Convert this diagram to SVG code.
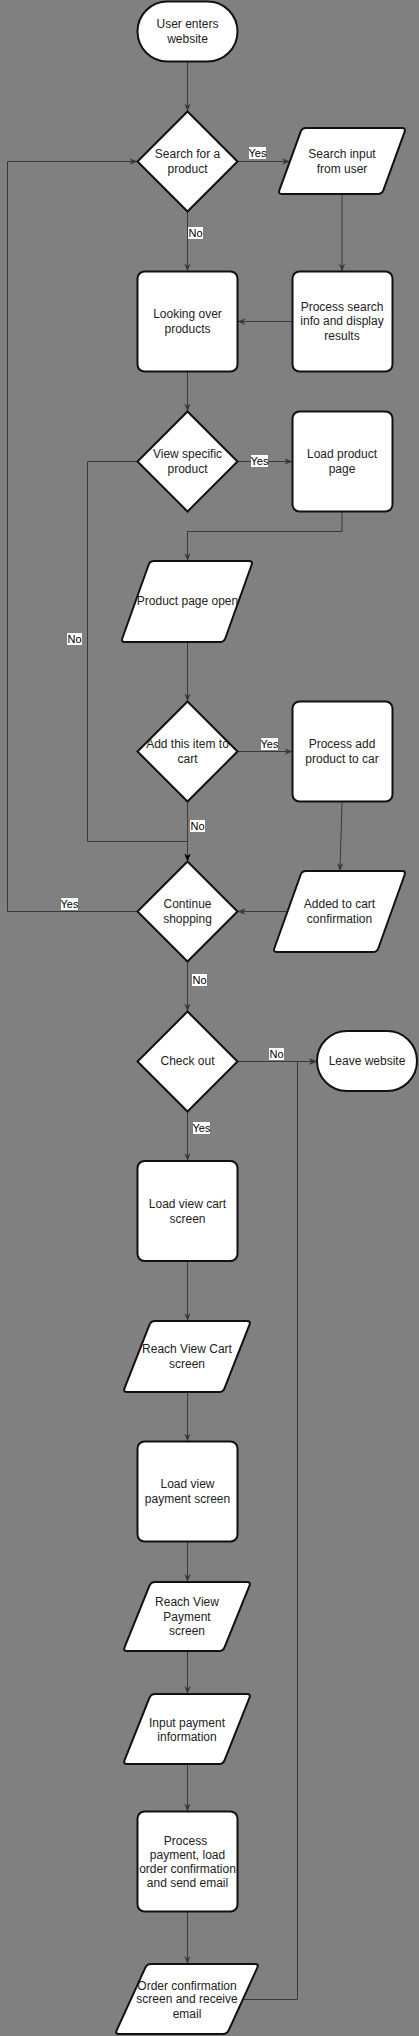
<svg xmlns="http://www.w3.org/2000/svg" width="419" height="2036" viewBox="0 0 419 2036">
<style>
.n{fill:#fff;stroke:#111;stroke-width:2}
.t{font-family:"Liberation Sans",Arial,sans-serif;font-size:12px;fill:#222;text-anchor:middle}
.e{fill:none;stroke:#36393d;stroke-width:1}
.lb{fill:#fff}
.lt{font-family:"Liberation Sans",Arial,sans-serif;font-size:11px;fill:#000;text-anchor:middle}
</style>
<defs>
<marker id="a" viewBox="0 0 10 10" markerWidth="8" markerHeight="8" refX="10" refY="5" orient="auto" markerUnits="userSpaceOnUse">
<path d="M0,1 L10,5 L0,9 L3,5 z" fill="#36393d"/>
</marker>
<marker id="ab" viewBox="0 0 10 10" markerWidth="8" markerHeight="8" refX="10" refY="5" orient="auto" markerUnits="userSpaceOnUse">
<path d="M0,1 L10,5 L0,9 L3,5 z" fill="#000"/>
</marker>
</defs>
<rect width="419" height="2036" fill="#808080"/>
<g id="connectors">
<path class="e" d="M187.5,61.5 V111.5" marker-end="url(#a)"/>
<path class="e" d="M237.5,161.5 H290" marker-end="url(#a)"/>
<path class="e" d="M342,194 V271.5" marker-end="url(#a)"/>
<path class="e" d="M292.5,321.5 H237.5" marker-end="url(#a)"/>
<path class="e" d="M187.5,211.5 V271.5" marker-end="url(#a)"/>
<path class="e" d="M187.5,371.5 V411.5" marker-end="url(#a)"/>
<path class="e" d="M237.5,461.5 H292.5" marker-end="url(#a)"/>
<path class="e" d="M342,511.5 V531.5 H187.5 V561" marker-end="url(#a)"/>
<path class="e" d="M187.5,642 V701.5" marker-end="url(#a)"/>
<path class="e" d="M237.5,751.5 H292.5" marker-end="url(#a)"/>
<path class="e" d="M187.5,801.5 V861.5" marker-end="url(#a)"/>
<path class="e" d="M137.5,461.5 H87.5 V841.5 H187.5 V861.5" stroke="#000" marker-end="url(#ab)"/>
<path class="e" d="M342,801.5 L340,871" marker-end="url(#a)"/>
<path class="e" d="M287.5,911.5 H237.5" marker-end="url(#a)"/>
<path class="e" d="M137.5,911.5 H7.5 V161.5 H137.5" marker-end="url(#a)"/>
<path class="e" d="M187.5,961.5 V1011.5" marker-end="url(#a)"/>
<path class="e" d="M237.5,1061.5 H317" marker-end="url(#a)"/>
<path class="e" d="M187.5,1111.5 V1161" marker-end="url(#a)"/>
<path class="e" d="M187.5,1261 V1321" marker-end="url(#a)"/>
<path class="e" d="M187.5,1392 V1441.5" marker-end="url(#a)"/>
<path class="e" d="M187.5,1541.5 V1582" marker-end="url(#a)"/>
<path class="e" d="M187.5,1651 V1694" marker-end="url(#a)"/>
<path class="e" d="M187.5,1764 V1811.5" marker-end="url(#a)"/>
<path class="e" d="M187.5,1911.5 V1964" marker-end="url(#a)"/>
<path class="e" d="M243,1999.5 H297.5 V1061.5 H317" marker-end="url(#a)"/>
<rect class="lb" x="249" y="147" width="17" height="12"/><text class="lt" x="257.5" y="157">Yes</text>
<rect class="lb" x="188" y="227" width="15" height="12"/><text class="lt" x="195.5" y="237">No</text>
<rect class="lb" x="251" y="455" width="17" height="12"/><text class="lt" x="259.5" y="465">Yes</text>
<rect class="lb" x="67" y="633" width="15" height="12"/><text class="lt" x="74.5" y="643">No</text>
<rect class="lb" x="261" y="738" width="17" height="12"/><text class="lt" x="269.5" y="748">Yes</text>
<rect class="lb" x="190" y="820" width="15" height="12"/><text class="lt" x="197.5" y="830">No</text>
<rect class="lb" x="61" y="898" width="17" height="12"/><text class="lt" x="69.5" y="908">Yes</text>
<rect class="lb" x="192" y="974" width="15" height="12"/><text class="lt" x="199.5" y="984">No</text>
<rect class="lb" x="269" y="1048" width="15" height="12"/><text class="lt" x="276.5" y="1058">No</text>
<rect class="lb" x="193" y="1122" width="17" height="12"/><text class="lt" x="201.5" y="1132">Yes</text>
</g>
<g id="start"><rect class="n" x="137.5" y="1.5" width="100" height="60" rx="30"/><text class="t" x="187.5" y="28">User enters</text><text class="t" x="187.5" y="43">website</text></g>
<g id="search"><path class="n" d="M187.5,111.5 L237.5,161.5 L187.5,211.5 L137.5,161.5 Z"/><text class="t" x="187.5" y="158">Search for a</text><text class="t" x="187.5" y="173">product</text></g>
<g id="searchInput"><path class="n" d="M306,128 L402,128 Q406,128 404.6,131.8 L383.4,190.2 Q382,194 378,194 L282,194 Q278,194 279.4,190.2 L300.6,131.8 Q302,128 306,128 Z"/><text class="t" x="342" y="158">Search input</text><text class="t" x="342" y="173">from user</text></g>
<g id="processSearch"><rect class="n" x="292.5" y="271.5" width="100" height="100" rx="7"/><text class="t" x="342" y="310.5">Process search</text><text class="t" x="342" y="325">info and display</text><text class="t" x="342" y="339.5">results</text></g>
<g id="looking"><rect class="n" x="137.5" y="271.5" width="100" height="100" rx="7"/><text class="t" x="187.5" y="318">Looking over</text><text class="t" x="187.5" y="333">products</text></g>
<g id="viewSpecific"><path class="n" d="M187.5,411.5 L237.5,461.5 L187.5,511.5 L137.5,461.5 Z"/><text class="t" x="187.5" y="457.5">View specific</text><text class="t" x="187.5" y="472.5">product</text></g>
<g id="loadProduct"><rect class="n" x="292.5" y="411.5" width="100" height="100" rx="7"/><text class="t" x="342" y="457.5">Load product</text><text class="t" x="342" y="472.5">page</text></g>
<g id="productOpen"><path class="n" d="M154,561 L249,561 Q253,561 251.65,564.77 L225.35,638.23 Q224,642 220,642 L125,642 Q121,642 122.35,638.23 L148.65,564.77 Q150,561 154,561 Z"/><text class="t" x="187.5" y="605">Product page open</text></g>
<g id="addItem"><path class="n" d="M187.5,701.5 L237.5,751.5 L187.5,801.5 L137.5,751.5 Z"/><text class="t" x="187.5" y="747.5">Add this item to</text><text class="t" x="187.5" y="762.5">cart</text></g>
<g id="processAdd"><rect class="n" x="292.5" y="701.5" width="100" height="100" rx="7"/><text class="t" x="342" y="747.5">Process add</text><text class="t" x="342" y="762.5">product to car</text></g>
<g id="addedConfirm"><path class="n" d="M306,871 L402,871 Q406,871 404.65,874.77 L378.35,948.23 Q377,952 373,952 L277,952 Q273,952 274.35,948.23 L300.65,874.77 Q302,871 306,871 Z"/><text class="t" x="339.5" y="907.5">Added to cart</text><text class="t" x="339.5" y="922.5">confirmation</text></g>
<g id="continue"><path class="n" d="M187.5,861.5 L237.5,911.5 L187.5,961.5 L137.5,911.5 Z"/><text class="t" x="187.5" y="907.5">Continue</text><text class="t" x="187.5" y="922.5">shopping</text></g>
<g id="checkout"><path class="n" d="M187.5,1011.5 L237.5,1061.5 L187.5,1111.5 L137.5,1061.5 Z"/><text class="t" x="187.5" y="1065">Check out</text></g>
<g id="leave"><rect class="n" x="317" y="1031" width="100" height="60" rx="30"/><text class="t" x="367" y="1065">Leave website</text></g>
<g id="loadCart"><rect class="n" x="137.5" y="1161" width="100" height="100" rx="7"/><text class="t" x="187.5" y="1208">Load view cart</text><text class="t" x="187.5" y="1223">screen</text></g>
<g id="reachCart"><path class="n" d="M155,1321 L247,1321 Q251,1321 249.53,1324.72 L224.47,1388.28 Q223,1392 219,1392 L127,1392 Q123,1392 124.47,1388.28 L149.53,1324.72 Q151,1321 155,1321 Z"/><text class="t" x="187" y="1353">Reach View Cart</text><text class="t" x="187" y="1368">screen</text></g>
<g id="loadPayment"><rect class="n" x="137.5" y="1441.5" width="100" height="100" rx="7"/><text class="t" x="187.5" y="1488">Load view</text><text class="t" x="187.5" y="1503">payment screen</text></g>
<g id="reachPayment"><path class="n" d="M155,1582 L247,1582 Q251,1582 249.5,1585.7 L224.5,1647.3 Q223,1651 219,1651 L127,1651 Q123,1651 124.5,1647.3 L149.5,1585.7 Q151,1582 155,1582 Z"/><text class="t" x="187" y="1606">Reach View</text><text class="t" x="187" y="1620.5">Payment</text><text class="t" x="187" y="1635">screen</text></g>
<g id="inputPayment"><path class="n" d="M155,1694 L247,1694 Q251,1694 249.5,1697.7 L224.5,1760.3 Q223,1764 219,1764 L127,1764 Q123,1764 124.5,1760.3 L149.5,1697.7 Q151,1694 155,1694 Z"/><text class="t" x="187" y="1726.5">Input payment</text><text class="t" x="187" y="1741">information</text></g>
<g id="processPayment"><rect class="n" x="137.5" y="1811.5" width="100" height="100" rx="7"/><text class="t" x="185.5" y="1844.5">Process</text><text class="t" x="187.5" y="1858.5">payment, load</text><text class="t" x="187.5" y="1873">order confirmation</text><text class="t" x="187.5" y="1887">and send email</text></g>
<g id="orderConfirm"><path class="n" d="M151,1964 L255,1964 Q259,1964 257.34,1967.64 L228.66,2030.36 Q227,2034 223,2034 L119,2034 Q115,2034 116.66,2030.36 L145.34,1967.64 Q147,1964 151,1964 Z"/><text class="t" x="187" y="1989.5">Order confirmation</text><text class="t" x="187" y="2003">screen and receive</text><text class="t" x="187" y="2017.5">email</text></g>
</svg>
